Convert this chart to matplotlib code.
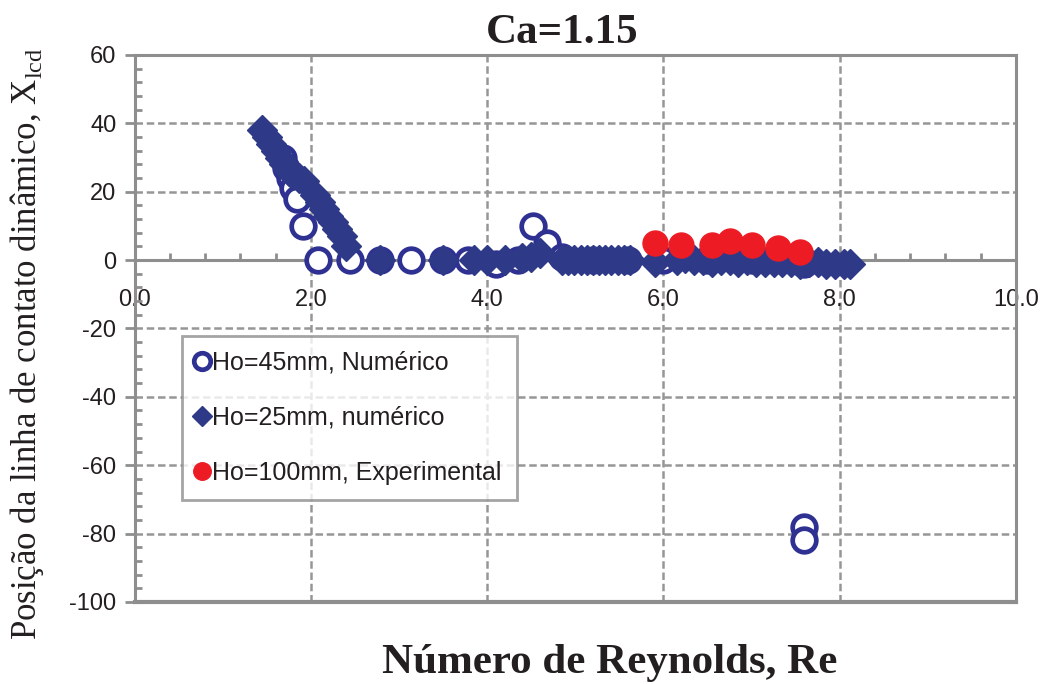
import numpy as np
import matplotlib
matplotlib.use("Agg")
import matplotlib.pyplot as plt
from matplotlib.ticker import MultipleLocator, FormatStrFormatter

plt.rcParams['font.family'] = ['Liberation Sans', 'DejaVu Sans']
plt.rcParams['mathtext.fontset'] = 'custom'
plt.rcParams['mathtext.rm'] = 'Liberation Serif'
plt.rcParams['axes.unicode_minus'] = False

# Ho=45mm, numerico (open circles)
x45 = [1.68, 1.72, 1.76, 1.80, 1.84, 1.91, 2.08, 2.44, 2.78, 3.14, 3.50, 3.78,
       4.10, 4.35, 4.52, 4.68, 4.85, 5.20, 5.60, 6.00, 6.50, 7.00, 7.60, 7.60, 7.60]
y45 = [30, 27, 24, 21, 18, 10, 0, 0, 0, 0, 0, 0,
       -1, 0, 10, 5, 1, 0, 0, 0, 0, 0, -1, -78, -82]

# Ho=25mm, numerico (diamonds)
x25 = [1.45, 1.50, 1.55, 1.60, 1.65, 1.70, 1.75, 1.80, 1.87, 1.92,
       2.05, 2.10, 2.15, 2.20, 2.25, 2.30, 2.35, 2.40,
       2.78, 3.50, 3.85, 4.00, 4.20, 4.40, 4.50, 4.60,
       4.85, 4.92, 4.99, 5.06, 5.13, 5.20, 5.27, 5.34, 5.41, 5.48, 5.55, 5.62,
       5.90, 6.15, 6.25, 6.35, 6.45, 6.55, 6.65, 6.75, 6.85, 6.95, 7.05,
       7.15, 7.25, 7.35, 7.45, 7.55, 7.65, 7.75, 7.85, 7.95, 8.05, 8.12]
y25 = [38, 36, 34, 32, 30, 28, 26, 25, 24, 23,
       19, 17, 15, 13, 11, 9, 7, 4,
       0, 0, 0, 0, 0, 0.5, 1, 2,
       0, 0, 0, 0, 0, 0, 0, 0, 0, 0, 0, 0,
       -0.5, 0, 0.5, 0, 0, -0.5, 0, 0, -0.5, 0, -0.5,
       -0.5, -0.5, -0.5, -0.5, -1, -0.5, -0.5, -1, -1, -1, -1]

# Ho=100mm, experimental
xexp = [5.90, 6.20, 6.55, 6.75, 7.00, 7.30, 7.55]
yexp = [5, 4.5, 4.5, 5.5, 4.5, 3.5, 2.5]

xticks = [0, 2, 4, 6, 8, 10]
yticks = [-100, -80, -60, -40, -20, 0, 20, 40, 60]

blue = '#2e3192'
navy = '#2e3a87'
red = '#ed1c24'
grey = '#8e8e8e'

fig = plt.figure(figsize=(10.51, 6.84), dpi=100)
ax = fig.add_axes([0.128, 0.12, 0.8387, 0.7996])

ax.plot(x45, y45, 'o', ms=17, mfc='white', mec=blue, mew=3.4,
        label='Ho=45mm, Numérico', zorder=3)
ax.plot(x25, y25, 'D', ms=15, mfc=navy, mec=navy, mew=1,
        label='Ho=25mm, numérico', zorder=4)
ax.plot(xexp, yexp, 'o', ms=18, mfc=red, mec=red,
        label='Ho=100mm, Experimental', zorder=5)

ax.set_xlim(0, 10)
ax.set_ylim(-100, 60)
ax.set_xticks(xticks)
ax.set_yticks(yticks)
ax.xaxis.set_major_formatter(FormatStrFormatter('%.1f'))
ax.xaxis.set_minor_locator(MultipleLocator(0.4))
ax.yaxis.set_minor_locator(MultipleLocator(4))

ax.grid(True, which='major', color='#969696', linestyle=(0, (3, 1.5)), linewidth=1.8)
ax.set_axisbelow(True)

for s in ['left', 'right', 'top', 'bottom']:
    ax.spines[s].set_color(grey)
    ax.spines[s].set_linewidth(2.2)
ax.spines['bottom'].set_position(('data', 0))
ax.axhline(-100, color=grey, lw=3, clip_on=False, zorder=1)

ax.tick_params(axis='x', which='major', length=0, pad=21, labelsize=17, colors='#231f20')
ax.tick_params(axis='x', which='minor', direction='in', length=5, width=2, color=grey)
ax.tick_params(axis='y', which='major', direction='out', length=7, width=2, color=grey,
               pad=6, labelsize=17, labelcolor='#231f20')
ax.tick_params(axis='y', which='minor', direction='in', length=5, width=2, color=grey)

leg = ax.legend(loc='upper left', bbox_to_anchor=(0.054, 0.487), fontsize=18,
                markerscale=0.7, handlelength=0.4, handletextpad=0.2,
                labelspacing=1.25, borderpad=0.6, fancybox=False, frameon=True,
                borderaxespad=0)
leg.get_frame().set_edgecolor(grey)
leg.get_frame().set_linewidth(2)
for t in leg.get_texts():
    t.set_color('#231f20')

fig.text(0.535, 0.952, 'Ca=1.15', ha='center', va='center', fontsize=31,
         fontweight='bold', family='Liberation Serif', color='#231f20')
fig.text(0.58, 0.03, 'Número de Reynolds, Re', ha='center', va='center', fontsize=31,
         fontweight='bold', family='Liberation Serif', color='#231f20')
fig.text(0.026, 0.497, r'Posição da linha de contato dinâmico, X$_{\mathrm{lcd}}$',
         rotation=90, ha='center', va='center', fontsize=25,
         family='Liberation Serif', color='#231f20')

fig.savefig('out.png', dpi=100)
